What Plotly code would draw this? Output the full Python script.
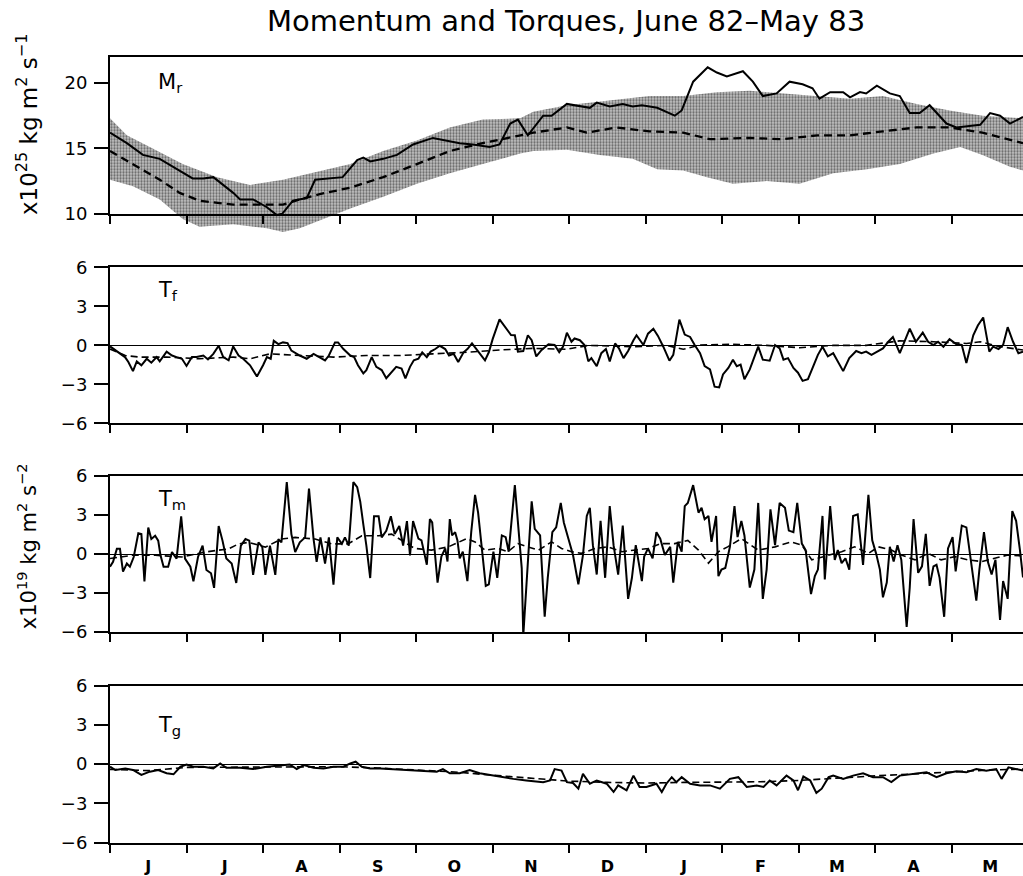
import plotly.graph_objects as go

# ---------------- data (time in months since 1 June 1982) ----------------
month_letters = ["J", "J", "A", "S", "O", "N", "D", "J", "F", "M", "A", "M"]
month_edges = list(range(13))
month_mids = [i + 0.5 for i in range(12)]

# Relative angular momentum M_r (x10^25 kg m^2 s^-1)
mr_obs = [(0, 16.2), (0.22, 15.4), (0.43, 14.5), (0.65, 14.2), (0.88, 13.4), (1.08, 12.7), (1.22, 12.7),
          (1.35, 12.8), (1.61, 11.6), (1.70, 11.1), (1.87, 11.1), (2.05, 10.5), (2.18, 9.9), (2.25, 10.0),
          (2.39, 11.0), (2.57, 11.2), (2.68, 12.6), (2.87, 12.7), (3.04, 12.8), (3.23, 14.1), (3.31, 14.3),
          (3.40, 14.0), (3.57, 14.2), (3.75, 14.5), (3.96, 15.3), (4.22, 15.8), (4.40, 15.6), (4.57, 15.4),
          (4.74, 15.3), (4.96, 15.1), (5.09, 15.3), (5.23, 16.9), (5.33, 17.2), (5.46, 16.0), (5.66, 17.5),
          (5.77, 17.5), (5.97, 18.4), (6.14, 18.2), (6.27, 18.1), (6.36, 18.5), (6.53, 18.2), (6.70, 18.4),
          (6.83, 18.2), (6.95, 18.3), (7.15, 18.1), (7.38, 17.5), (7.47, 17.9), (7.62, 20.1), (7.81, 21.2),
          (7.93, 20.8), (8.06, 20.5), (8.27, 20.9), (8.40, 20.1), (8.53, 19.0), (8.71, 19.2), (8.88, 20.1),
          (9.05, 19.9), (9.18, 19.6), (9.27, 18.8), (9.41, 19.3), (9.58, 19.3), (9.67, 18.9), (9.80, 19.3),
          (9.88, 19.2), (10.02, 19.8), (10.19, 19.2), (10.32, 19.0), (10.45, 17.7), (10.58, 17.7), (10.71, 18.3),
          (10.93, 16.9), (11.06, 16.6), (11.37, 16.8), (11.50, 17.7), (11.63, 17.5), (11.76, 16.9), (11.93, 17.4)]
mr_clim = [(0, 14.8), (0.30, 13.8), (0.65, 12.6), (0.91, 11.6), (1.17, 11.0), (1.61, 10.7), (2.05, 10.7),
           (2.26, 10.7), (2.48, 11.1), (2.74, 11.5), (3.14, 12.0), (3.57, 12.8), (4.01, 13.8), (4.44, 14.8),
           (4.87, 15.4), (5.36, 16.0), (5.53, 16.2), (5.97, 16.6), (6.23, 16.2), (6.62, 16.6), (7.05, 16.3),
           (7.49, 16.2), (7.84, 15.7), (8.36, 15.8), (8.79, 15.7), (9.24, 16.0), (9.67, 16.0), (10.10, 16.3),
           (10.54, 16.6), (10.97, 16.6), (11.40, 16.2), (11.93, 15.4)]
mr_band_upper = [(0, 17.3), (0.22, 16.0), (0.52, 15.1), (0.95, 13.8), (1.40, 12.8), (1.83, 12.2), (2.26, 12.6),
                 (2.70, 13.2), (3.14, 13.8), (3.57, 14.8), (4.01, 15.6), (4.44, 16.6), (4.87, 17.2), (5.36, 17.3),
                 (5.53, 17.8), (5.97, 18.3), (6.62, 18.7), (7.05, 19.0), (7.49, 19.0), (7.93, 19.3), (8.36, 19.4),
                 (8.79, 19.2), (9.24, 19.0), (9.67, 18.8), (10.10, 19.0), (10.54, 18.4), (10.97, 17.9),
                 (11.40, 17.5), (11.93, 17.3)]
mr_band_lower = [(0, 12.6), (0.30, 12.1), (0.65, 11.1), (0.95, 9.6), (1.17, 9.0), (1.61, 9.2), (2.05, 8.9),
                 (2.26, 8.6), (2.48, 8.9), (2.74, 9.5), (3.14, 10.4), (3.57, 11.3), (4.01, 12.3), (4.44, 13.1),
                 (4.87, 13.8), (5.36, 14.6), (5.53, 14.8), (5.97, 14.9), (6.40, 14.5), (6.83, 14.2), (7.15, 13.4),
                 (7.49, 13.3), (7.80, 12.8), (8.14, 12.3), (8.58, 12.5), (9.01, 12.3), (9.45, 13.1), (9.89, 13.4),
                 (10.32, 13.8), (10.76, 14.6), (11.11, 15.1), (11.40, 14.5), (11.76, 13.6), (11.93, 13.3)]

# Friction torque T_f (x10^19 kg m^2 s^-2)
tf_obs = [(0, -0.08), (0.196, -0.9), (0.24, -1.28), (0.30, -1.98), (0.35, -1.23), (0.41, -1.53), (0.48, -1.03),
          (0.54, -1.33), (0.61, -0.9), (0.65, -1.23), (0.74, -0.48), (0.81, -0.78), (0.87, -0.9), (0.94, -1.03),
          (1.00, -1.58), (1.07, -0.9), (1.13, -0.9), (1.22, -0.78), (1.28, -1.08), (1.35, -0.65), (1.42, -0.03),
          (1.48, -0.9), (1.55, -1.15), (1.61, -0.08), (1.68, -0.78), (1.74, -1.03), (1.83, -1.53), (1.92, -2.4),
          (2.00, -1.53), (2.05, -0.9), (2.10, -1.03), (2.14, 0.35), (2.20, 0.1), (2.26, 0.23), (2.32, 0.18),
          (2.37, -0.4), (2.48, -0.78), (2.57, -1.03), (2.66, -0.65), (2.74, -0.9), (2.81, -1.15), (2.86, -0.78),
          (2.94, 0.23), (2.98, 0.23), (3.05, -0.28), (3.14, -0.78), (3.19, -0.9), (3.24, -1.53), (3.31, -2.15),
          (3.35, -1.9), (3.42, -0.9), (3.48, -1.65), (3.55, -1.9), (3.61, -2.53), (3.68, -2.03), (3.74, -1.65),
          (3.81, -1.78), (3.86, -2.53), (3.92, -1.65), (3.97, -1.15), (4.03, -1.03), (4.08, -0.53), (4.14, -0.9),
          (4.19, -0.48), (4.25, -0.28), (4.31, -0.03), (4.38, -0.28), (4.43, -0.78), (4.49, -0.65), (4.55, -1.28),
          (4.62, -0.53), (4.67, -0.28), (4.73, 0.15), (4.79, -0.28), (4.85, -0.73), (4.90, -1.15), (4.95, -0.53),
          (5.00, 0.48), (5.09, 2.0), (5.18, 1.28), (5.24, 0.8), (5.29, 0.78), (5.33, -0.48), (5.40, -0.43),
          (5.46, 0.78), (5.51, 0.4), (5.57, -0.85), (5.64, -0.35), (5.73, 0.08), (5.81, 0.03), (5.87, -0.53),
          (5.92, -0.1), (5.97, 0.98), (6.03, 0.28), (6.07, 0.53), (6.14, 0.4), (6.20, 0.03), (6.25, -1.23),
          (6.29, -0.98), (6.36, -1.6), (6.42, -0.6), (6.48, -0.28), (6.53, -1.23), (6.60, 0.15), (6.65, -0.23),
          (6.71, -0.98), (6.77, -0.43), (6.84, 0.4), (6.88, 0.78), (6.97, 0.03), (7.03, 0.9), (7.10, 1.28),
          (7.16, 0.73), (7.23, -0.1), (7.31, -1.18), (7.36, -0.73), (7.44, 1.98), (7.51, 0.83), (7.58, 0.65),
          (7.64, 0.03), (7.71, -0.6), (7.77, -1.6), (7.84, -1.85), (7.90, -3.18), (7.96, -3.23), (8.01, -2.23),
          (8.08, -1.73), (8.14, -1.1), (8.19, -1.6), (8.24, -1.48), (8.29, -2.6), (8.36, -1.85), (8.40, -1.23),
          (8.47, -0.1), (8.53, -1.1), (8.62, -1.18), (8.69, 0.03), (8.75, -0.23), (8.80, -1.1), (8.86, -0.98),
          (8.93, -1.73), (8.99, -2.1), (9.05, -2.73), (9.12, -2.6), (9.19, -1.6), (9.25, -0.73), (9.31, -0.1),
          (9.38, -0.85), (9.45, -0.6), (9.50, -1.1), (9.58, -1.98), (9.66, -0.98), (9.75, -0.43), (9.82, -0.6),
          (9.88, -0.48), (9.95, -0.73), (10.02, -0.48), (10.10, -0.23), (10.17, 0.28), (10.23, 0.65),
          (10.32, -0.6), (10.40, 0.53), (10.45, 1.28), (10.53, 0.28), (10.62, 0.98), (10.69, 0.28), (10.76, 0.03),
          (10.82, 0.28), (10.89, -0.1), (10.97, 0.48), (11.06, 0.08), (11.13, 0.03), (11.19, -1.35), (11.28, 0.78),
          (11.34, 1.53), (11.41, 2.15), (11.49, -0.48), (11.54, -0.1), (11.61, -0.28), (11.67, 0.03), (11.73, 1.4),
          (11.80, 0.28), (11.87, -0.6), (11.93, -0.48)]
tf_clim = [(0, -0.28), (0.2, -0.78), (0.39, -0.9), (0.74, -0.9), (1.17, -1.03), (1.61, -0.9), (1.83, -1.03),
           (2.09, -0.65), (2.48, -0.78), (2.92, -0.9), (3.35, -0.78), (3.79, -0.78), (4.22, -0.65), (4.66, -0.53),
           (5.09, -0.35), (5.53, -0.23), (5.97, -0.3), (6.25, 0.0), (6.84, -0.1), (7.27, 0.0), (7.49, -0.3),
           (7.71, 0.03), (8.14, 0.08), (8.58, 0.0), (9.01, -0.18), (9.45, 0.0), (9.88, 0.0), (10.32, 0.35),
           (10.76, 0.28), (11.19, 0.15), (11.37, 0.28), (11.63, -0.1), (11.93, -0.35)]

# Mountain torque T_m
tm_obs = [(0.0, -0.98), (0.04, -0.6), (0.09, 0.4), (0.13, 0.4), (0.17, -1.35), (0.22, -0.73), (0.26, -0.98),
          (0.31, -0.23), (0.37, 1.6), (0.41, 1.53), (0.45, -2.1), (0.50, 2.03), (0.54, 1.15), (0.59, 1.4),
          (0.63, 1.03), (0.66, -0.1), (0.70, -0.98), (0.76, -0.98), (0.81, 0.15), (0.87, -0.35), (0.93, 2.9),
          (0.98, -0.35), (1.05, -0.98), (1.09, -2.1), (1.15, -0.23), (1.21, 0.65), (1.26, -1.23), (1.32, -1.48),
          (1.36, -2.6), (1.42, 2.15), (1.47, 1.03), (1.52, -0.35), (1.59, -0.73), (1.65, -2.23), (1.71, 0.65),
          (1.77, 1.15), (1.82, 1.03), (1.87, -1.6), (1.94, 0.9), (1.99, 0.53), (2.03, -1.6), (2.09, 0.65),
          (2.16, -1.6), (2.20, 1.15), (2.24, 0.9), (2.31, 5.53), (2.37, 1.53), (2.42, 0.15), (2.48, 0.9),
          (2.55, 1.28), (2.60, 5.03), (2.66, 1.15), (2.70, -0.6), (2.75, 1.28), (2.81, -0.73), (2.86, 1.28),
          (2.92, -2.35), (2.97, 1.28), (3.03, 0.78), (3.07, 1.28), (3.12, 0.65), (3.18, 5.53), (3.23, 5.15),
          (3.27, 4.03), (3.31, 2.28), (3.35, 0.65), (3.40, -1.85), (3.45, 2.9), (3.51, 2.9), (3.55, 1.28),
          (3.61, 1.78), (3.67, 2.9), (3.72, 1.53), (3.78, 2.15), (3.83, 0.65), (3.88, 2.53), (3.92, -0.1),
          (3.96, 2.53), (4.03, 1.18), (4.07, 1.05), (4.14, -0.83), (4.18, 2.68), (4.21, 2.43), (4.28, -2.2),
          (4.33, -0.2), (4.38, 0.43), (4.41, -0.58), (4.44, 2.68), (4.47, 1.43), (4.51, 1.68), (4.54, 1.05),
          (4.57, -0.33), (4.61, 0.18), (4.67, -2.08), (4.72, 1.68), (4.77, 4.55), (4.81, 3.18), (4.86, 0.43),
          (4.91, -2.45), (4.95, -2.33), (5.01, 0.18), (5.06, -1.83), (5.12, 1.43), (5.17, 1.3), (5.21, 0.18),
          (5.29, 5.3), (5.33, 2.43), (5.38, -1.08), (5.40, -6.3), (5.44, -2.33), (5.51, 4.05), (5.55, 1.93),
          (5.62, 1.43), (5.68, -4.83), (5.72, -1.83), (5.78, 1.68), (5.83, 2.05), (5.89, 3.93), (5.93, 2.43),
          (5.99, 1.18), (6.05, -0.08), (6.12, -2.33), (6.18, -0.08), (6.23, 2.93), (6.27, 3.55), (6.31, 0.68),
          (6.36, -1.58), (6.41, 2.55), (6.47, -1.83), (6.53, 3.68), (6.58, 0.68), (6.64, -1.58), (6.70, 2.18),
          (6.77, -3.45), (6.82, -1.83), (6.87, 0.68), (6.95, -2.08), (6.98, -0.2), (7.03, 0.43), (7.09, -0.33),
          (7.14, 1.68), (7.19, 1.18), (7.25, -0.08), (7.32, 0.55), (7.36, -2.2), (7.42, 0.93), (7.47, 0.18),
          (7.51, 3.68), (7.55, 3.93), (7.62, 5.3), (7.69, 3.18), (7.73, 3.55), (7.77, 2.68), (7.82, 2.93),
          (7.86, 0.93), (7.92, 2.93), (7.95, -1.7), (7.99, -1.2), (8.04, -1.08), (8.10, 0.55), (8.16, 3.68),
          (8.20, 1.3), (8.25, 2.55), (8.29, 1.43), (8.36, -2.58), (8.42, -1.2), (8.47, 3.93), (8.53, -3.45),
          (8.58, -1.2), (8.63, 3.43), (8.69, 0.68), (8.75, 3.93), (8.82, 3.55), (8.87, 1.8), (8.93, 1.68),
          (8.98, 3.93), (9.04, 0.8), (9.09, 0.3), (9.16, -3.08), (9.21, -1.7), (9.25, -1.2), (9.31, 2.93),
          (9.34, -1.95), (9.41, 3.68), (9.47, -0.45), (9.51, 0.3), (9.56, -0.7), (9.61, -0.33), (9.66, -1.2),
          (9.71, 2.93), (9.77, 3.05), (9.84, -0.83), (9.91, 4.55), (9.96, 1.05), (10.01, 0.05), (10.06, -1.2),
          (10.10, -3.33), (10.15, -2.2), (10.19, 0.55), (10.24, -0.58), (10.29, 0.68), (10.34, -0.45),
          (10.41, -5.6), (10.45, -2.58), (10.50, 2.68), (10.56, -1.45), (10.61, -0.95), (10.66, 1.55),
          (10.71, -2.45), (10.76, -0.95), (10.80, -0.83), (10.84, -1.83), (10.90, -4.83), (10.95, 0.43),
          (11.01, 1.3), (11.05, -1.33), (11.13, 2.18), (11.19, 2.05), (11.25, -0.45), (11.32, -3.58),
          (11.36, -1.2), (11.42, 1.68), (11.47, -0.58), (11.52, -1.58), (11.57, -0.45), (11.63, -5.08),
          (11.67, -2.08), (11.73, -3.45), (11.79, 3.3), (11.84, 2.55), (11.89, 0.3), (11.93, -1.8)]
tm_clim = [(0, -0.35), (0.29, -0.1), (0.59, -0.1), (0.94, -0.23), (1.24, 0.15), (1.55, 0.4), (1.68, 0.78),
           (1.81, 0.9), (2.03, 0.53), (2.24, 1.15), (2.42, 1.28), (2.68, 1.15), (2.9, 0.78), (3.11, 0.78),
           (3.29, 1.4), (3.51, 1.4), (3.68, 1.53), (3.85, 0.9), (3.98, 0.43), (4.2, 0.3), (4.42, 0.55),
           (4.66, 1.18), (4.77, 0.93), (4.90, 0.3), (5.07, 0.43), (5.2, 0.18), (5.33, 0.8), (5.46, 0.55),
           (5.6, 0.3), (5.77, 0.93), (5.9, 0.43), (6.03, 0.18), (6.16, 0.05), (6.34, 0.43), (6.51, 0.55),
           (6.69, 0.18), (6.86, 0.3), (7.03, 0.43), (7.2, 0.8), (7.38, 0.8), (7.55, 1.05), (7.69, 0.3),
           (7.82, -0.7), (7.95, 0.18), (8.07, 0.55), (8.25, 1.18), (8.47, 0.3), (8.69, 0.55), (8.9, 0.93),
           (9.04, 0.68), (9.17, -0.45), (9.34, -0.2), (9.56, 0.18), (9.73, 0.55), (9.91, 0.05), (10.04, 0.55),
           (10.21, 0.3), (10.34, -0.08), (10.52, -0.45), (10.69, 0.05), (10.86, -0.45), (11.04, -0.2),
           (11.21, -0.45), (11.39, -0.58), (11.56, -0.33), (11.73, -0.08), (11.93, -0.15)]

# Gravity-wave torque T_g
tg_obs = [(0, -0.2), (0.07, -0.45), (0.2, -0.33), (0.3, -0.45), (0.41, -0.83), (0.52, -0.58), (0.63, -0.45),
          (0.74, -0.7), (0.83, -0.78), (0.92, -0.2), (1.0, -0.03), (1.09, -0.2), (1.22, -0.2), (1.35, -0.33),
          (1.44, 0.05), (1.52, -0.28), (1.70, -0.28), (1.87, -0.38), (2.05, -0.2), (2.22, -0.08), (2.35, -0.03),
          (2.44, -0.38), (2.53, -0.08), (2.66, -0.28), (2.79, -0.33), (2.92, -0.2), (3.05, -0.2), (3.14, 0.05),
          (3.21, 0.18), (3.29, -0.2), (3.40, -0.33), (3.53, -0.33), (3.66, -0.38), (3.79, -0.38), (3.96, -0.45),
          (4.14, -0.53), (4.27, -0.58), (4.35, -0.38), (4.44, -0.7), (4.57, -0.7), (4.70, -0.45), (4.83, -0.7),
          (4.96, -0.83), (5.09, -1.0), (5.27, -1.13), (5.44, -1.25), (5.66, -1.38), (5.75, -1.25), (5.81, -0.38),
          (5.90, -0.5), (5.97, -1.38), (6.05, -1.45), (6.12, -1.88), (6.18, -0.75), (6.27, -1.5), (6.36, -1.25),
          (6.49, -1.5), (6.58, -2.13), (6.64, -1.63), (6.75, -2.0), (6.84, -0.88), (6.92, -1.75), (7.01, -1.75),
          (7.14, -1.5), (7.21, -2.13), (7.27, -1.5), (7.34, -1.0), (7.40, -1.38), (7.47, -1.0), (7.58, -1.5),
          (7.71, -1.63), (7.84, -1.63), (7.97, -1.88), (8.10, -1.13), (8.21, -1.0), (8.32, -1.75), (8.45, -1.63),
          (8.54, -1.75), (8.62, -1.25), (8.71, -1.63), (8.84, -0.88), (8.93, -1.25), (8.99, -2.0), (9.06, -0.95),
          (9.15, -1.25), (9.23, -2.2), (9.30, -1.88), (9.39, -1.0), (9.45, -0.88), (9.58, -1.13), (9.71, -0.88),
          (9.84, -0.7), (9.97, -1.0), (10.10, -1.0), (10.21, -1.38), (10.32, -0.88), (10.49, -0.75),
          (10.67, -0.63), (10.80, -1.0), (10.93, -0.7), (11.06, -0.55), (11.19, -0.63), (11.32, -0.38),
          (11.45, -0.5), (11.58, -0.38), (11.65, -1.13), (11.74, -0.25), (11.85, -0.38), (11.93, -0.5)]
tg_clim = [(0, -0.4), (0.5, -0.5), (1.0, -0.25), (1.5, -0.25), (2.0, -0.2), (2.5, -0.2), (3.0, -0.2),
           (3.5, -0.3), (4.0, -0.45), (4.5, -0.6), (5.0, -0.85), (5.5, -1.1), (6.0, -1.3), (6.5, -1.4),
           (7.0, -1.45), (7.5, -1.4), (8.0, -1.4), (8.5, -1.35), (9.0, -1.25), (9.5, -1.05), (10.0, -0.9),
           (10.5, -0.75), (11.0, -0.6), (11.5, -0.45), (11.93, -0.38)]

mr_ticks = [10, 15, 20]
torque_ticks = [-6, -3, 0, 3, 6]


def xs(pairs):
    return [p[0] for p in pairs]


def ys(pairs):
    return [p[1] for p in pairs]


# ---------------- layout geometry ----------------
W, H = 1023, 876
LEFT = 110
PLOT_W = W - LEFT
X_END = 11.93
FONT = "DejaVu Sans"


def fy(px):
    return 1 - px / H


def fx(px):
    return (px - LEFT) / PLOT_W


fig = go.Figure()

band_t = xs(mr_band_upper) + xs(mr_band_lower)[::-1]
band_v = ys(mr_band_upper) + ys(mr_band_lower)[::-1]
fig.add_trace(go.Scatter(x=band_t, y=band_v, fill="toself", mode="lines",
                         line=dict(width=0, color="rgba(0,0,0,0)"),
                         fillcolor="#a9a9a9",
                         fillpattern=dict(shape=".", bgcolor="#c4c4c4", fgcolor="#6a6a6a",
                                          size=3, solidity=0.45, fillmode="replace"),
                         xaxis="x", yaxis="y", hoverinfo="skip"))
fig.add_trace(go.Scatter(x=xs(mr_clim), y=ys(mr_clim), mode="lines",
                         line=dict(color="black", width=2.3, dash="8px,5px"), xaxis="x", yaxis="y"))
fig.add_trace(go.Scatter(x=xs(mr_obs), y=ys(mr_obs), mode="lines",
                         line=dict(color="black", width=2), xaxis="x", yaxis="y"))
# empty trace so that the visible M_r axes (x5/y5) are drawn
fig.add_trace(go.Scatter(x=[], y=[], mode="lines", xaxis="x5", yaxis="y5", hoverinfo="skip"))

for obs, clim, ax in [(tf_obs, tf_clim, "2"), (tm_obs, tm_clim, "3"), (tg_obs, tg_clim, "4")]:
    fig.add_trace(go.Scatter(x=xs(clim), y=ys(clim), mode="lines",
                             line=dict(color="black", width=1.6, dash="7px,4px"),
                             xaxis="x" + ax, yaxis="y" + ax))
    fig.add_trace(go.Scatter(x=xs(obs), y=ys(obs), mode="lines",
                             line=dict(color="black", width=2), xaxis="x" + ax, yaxis="y" + ax))

xbase = dict(range=[0, X_END], tickvals=month_mids, ticktext=month_letters, ticks="",
             showticklabels=False, showline=True, linecolor="black", linewidth=2, mirror=True,
             showgrid=False, zeroline=False,
             minor=dict(tickvals=month_edges, ticks="outside", ticklen=8, tickwidth=1.5,
                        tickcolor="black", showgrid=False))
ybase = dict(showline=True, linecolor="black", linewidth=2, ticks="outside", ticklen=14,
             tickwidth=1.5, tickcolor="black", showgrid=False,
             tickfont=dict(family=FONT, size=18, color="black"), ticklabelstandoff=3)

panels = {"2": (263, 423), "3": (477, 637), "4": (692, 853)}

layout = dict(
    width=W, height=H, margin=dict(l=LEFT, r=0, t=0, b=0),
    paper_bgcolor="white", plot_bgcolor="rgba(0,0,0,0)", showlegend=False,
    # Mr data subplot (axes hidden so the band can extend below the axis)
    xaxis=dict(domain=[0, 1], range=[0, X_END], visible=False, anchor="y"),
    yaxis=dict(domain=[fy(230), fy(47)], range=[10 - 22 / 13.417, 22], visible=False, anchor="x"),
    # Mr visible axes
    xaxis5=dict(domain=[0, 1], anchor="y5", **xbase),
    yaxis5=dict(domain=[fy(208), fy(47)], range=[10, 22], tickvals=mr_ticks, zeroline=False,
                anchor="x5", **ybase),
)
for k, (top, bot) in panels.items():
    xa = dict(xbase)
    if k == "4":
        xa.update(showticklabels=True, ticklabelstandoff=8,
                  tickfont=dict(family=FONT, size=16, color="black", weight="bold"))
    layout["xaxis" + k] = dict(domain=[0, 1], anchor="y" + k, **xa)
    layout["yaxis" + k] = dict(domain=[fy(bot), fy(top)], range=[-6, 6], tickvals=torque_ticks,
                               zeroline=True, zerolinecolor="black", zerolinewidth=1,
                               anchor="x" + k, **ybase)

fig.update_layout(**layout)

fig.update_layout(title=dict(text="Momentum and Torques, June 82–May 83",
                             x=566 / W, xref="container", xanchor="center",
                             y=1 - 21 / H, yref="container", yanchor="middle",
                             font=dict(family=FONT, size=29, color="black")))

ann = [
    dict(text="x10<sup>25</sup> kg m<sup>2</sup> s<sup>−1</sup>", x=fx(27), y=fy(116), textangle=-90, size=23),
    dict(text="x10<sup>19</sup> kg m<sup>2</sup> s<sup>−2</sup>", x=fx(27), y=fy(549), textangle=-90, size=21),
]
for a in ann:
    sz = a.pop("size")
    fig.add_annotation(xref="paper", yref="paper", showarrow=False, xanchor="center", yanchor="middle",
                       font=dict(family=FONT, size=sz, color="black"), **a)

labels = [("M<sub>r</sub>", 74), ("T<sub>f</sub>", 287), ("T<sub>m</sub>", 502), ("T<sub>g</sub>", 733)]
for txt, py in labels:
    fig.add_annotation(text=txt, xref="paper", yref="paper", x=fx(156), y=fy(py), showarrow=False,
                       xanchor="left", yanchor="middle", font=dict(family=FONT, size=21, color="black"))

fig.write_html("out.html")
